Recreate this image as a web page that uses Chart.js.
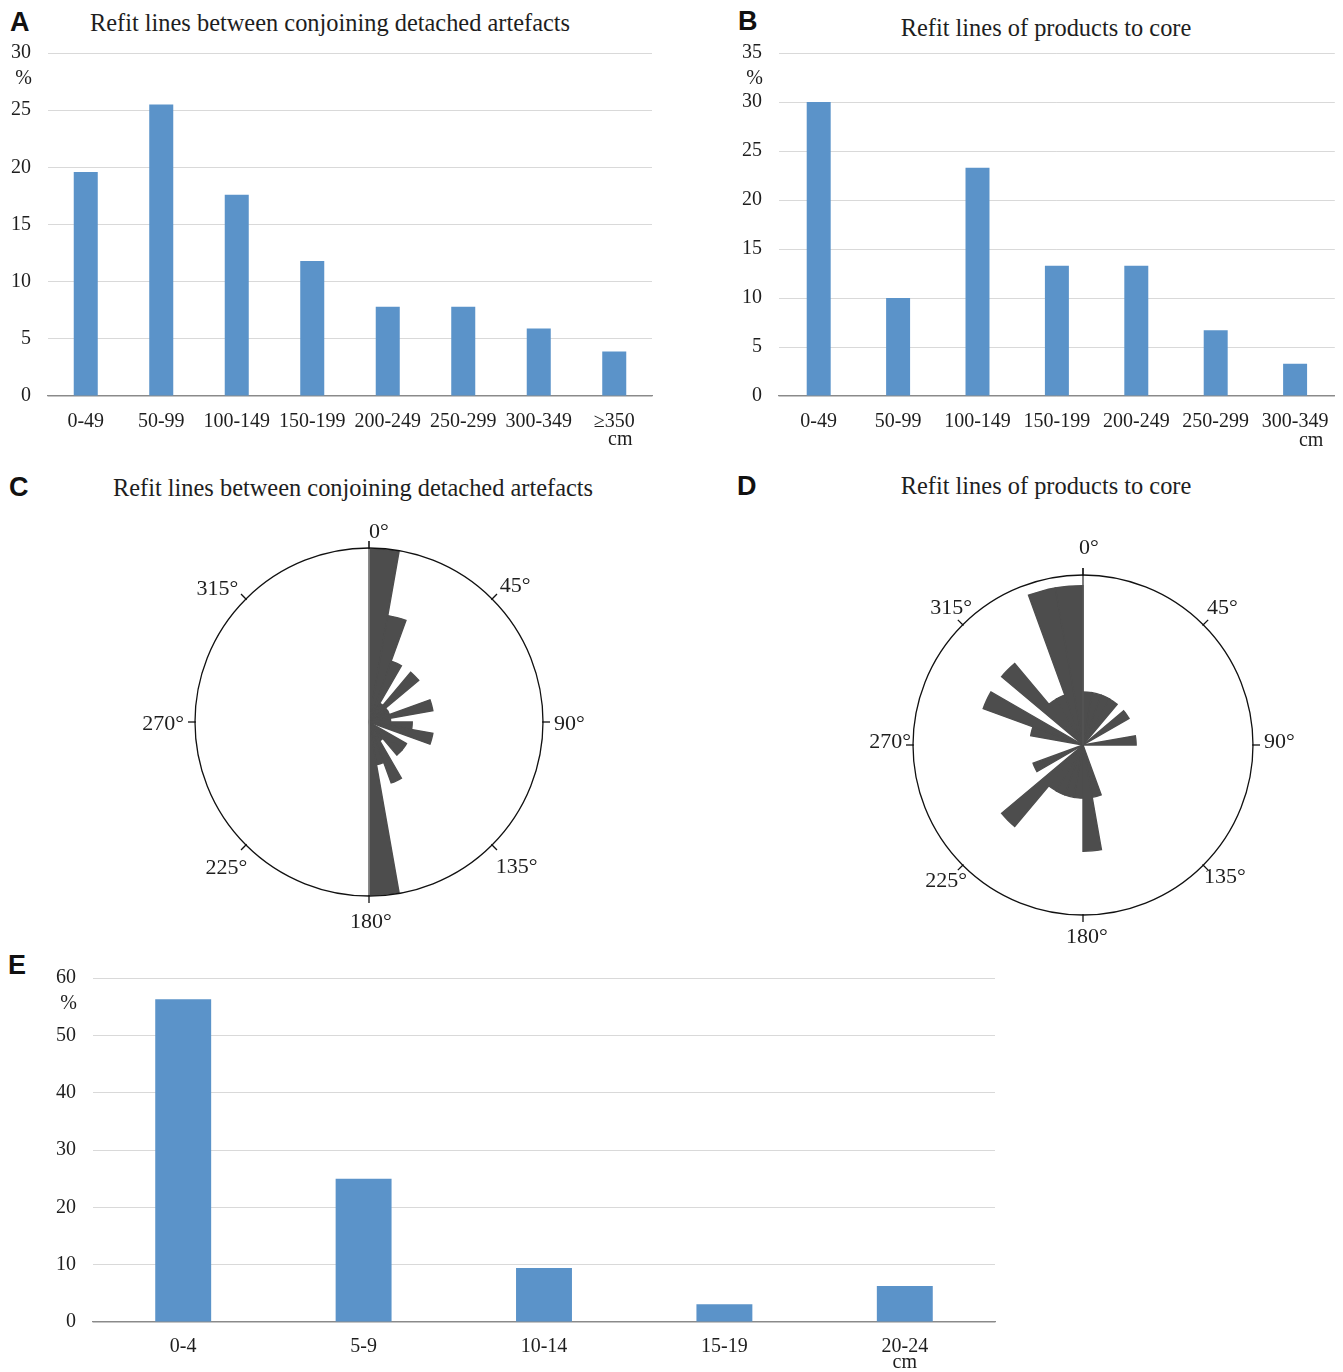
<!DOCTYPE html>
<html>
<head>
<meta charset="utf-8">
<title>Refit lines</title>
<script src="https://cdn.jsdelivr.net/npm/chart.js@4.4.1/dist/chart.umd.min.js"></script>
<style>
  body { margin: 0; background: #fff; }
  #page { position: relative; width: 1343px; height: 1372px; overflow: hidden;
          font-family: "Liberation Serif", "Times New Roman", serif; color: #1e1e1e; }
  canvas { position: absolute; }
  .letter { position: absolute; font-family: "Liberation Sans", Arial, sans-serif; font-weight: bold;
            font-size: 27px; line-height: 1; color: #111; }
  .title { position: absolute; font-size: 24.4px; line-height: 1; white-space: nowrap;
           transform: translate(-50%, -50%); }
</style>
</head>
<body>
<div id="page">
  <div class="letter" style="left:10px;top:9px">A</div>
  <div class="letter" style="left:738px;top:8px">B</div>
  <div class="letter" style="left:9px;top:474px">C</div>
  <div class="letter" style="left:737px;top:473px">D</div>
  <div class="letter" style="left:8px;top:952px">E</div>

  <div class="title" style="left:330px;top:23px">Refit lines between conjoining detached artefacts</div>
  <div class="title" style="left:1046px;top:28px">Refit lines of products to core</div>
  <div class="title" style="left:353px;top:488px">Refit lines between conjoining detached artefacts</div>
  <div class="title" style="left:1046px;top:486px">Refit lines of products to core</div>

  <canvas id="chartA" width="670" height="456" style="left:0;top:0"></canvas>
  <canvas id="chartB" width="643" height="456" style="left:700px;top:0"></canvas>
  <canvas id="roseC" width="540" height="460" style="left:100px;top:500px"></canvas>
  <canvas id="roseD" width="500" height="450" style="left:830px;top:520px"></canvas>
  <canvas id="chartE" width="1010" height="462" style="left:0;top:920px"></canvas>
</div>

<script>
// ---- data ----
// A: length of refit lines between conjoining detached artefacts (%)
const lengthClassesA = ['0-49', '50-99', '100-149', '150-199', '200-249', '250-299', '300-349', '\u2265350'];
const lengthShareA   = [19.6, 25.5, 17.6, 11.8, 7.8, 7.8, 5.9, 3.9];

// B: length of refit lines of products to core (%)
const lengthClassesB = ['0-49', '50-99', '100-149', '150-199', '200-249', '250-299', '300-349'];
const lengthShareB   = [30.0, 10.0, 23.3, 13.3, 13.3, 6.7, 3.3];

// E: length classes (%)
const lengthClassesE = ['0-4', '5-9', '10-14', '15-19', '20-24'];
const lengthShareE   = [56.3, 25.0, 9.4, 3.1, 6.3];

// C: orientation of refit lines, 10-degree sectors clockwise from 0 (counts)
const orientationC = [8, 5, 3, 1, 3, 1, 1, 3, 1, 2, 3, 0, 2, 2, 1, 3, 2, 8,
                      0, 0, 0, 0, 0, 0, 0, 0, 0, 0, 0, 0, 0, 0, 0, 0, 0, 0];

// D: orientation of product-to-core refit lines, 10-degree sectors (counts)
const orientationD = [1, 1, 1, 1, 0, 1, 0, 0, 1, 0, 0, 0, 0, 0, 0, 0, 1, 2,
                      1, 1, 1, 1, 2, 0, 1, 0, 0, 0, 1, 2, 0, 2, 1, 1, 3, 3];

// compass labels on the rose diagrams
const compassDegrees = [0, 45, 90, 135, 180, 225, 270, 315];
const compassLabels  = ['0\u00b0', '45\u00b0', '90\u00b0', '135\u00b0', '180\u00b0', '225\u00b0', '270\u00b0', '315\u00b0'];

// ---- styling ----
const SERIF = '"Liberation Serif", "Times New Roman", serif';
const TEXT = '#1e1e1e';
const BAR_BLUE = '#5b93c9';
const ROSE_GREY = '#4d4d4d';
const GRID = '#d9d9d9';
const AXIS = '#8a8a8a';

// unit captions: "%" under the top value tick, "cm" under the last class label
const unitLabels = {
  id: 'unitLabels',
  afterDraw(chart, args, opts) {
    const { ctx, chartArea, scales } = chart;
    ctx.save();
    ctx.font = '20px ' + SERIF;
    ctx.fillStyle = TEXT;
    ctx.textAlign = 'right';
    ctx.textBaseline = 'middle';
    ctx.fillText('%', scales.y.right - scales.y.options.ticks.padding + 1, chartArea.top + 26);
    const last = scales.x.ticks.length - 1;
    ctx.textAlign = 'center';
    ctx.fillText('cm', scales.x.getPixelForTick(last) + opts.cmShift, chartArea.bottom + opts.cmDrop);
    ctx.restore();
  }
};

function barChart(id, labels, values, cfg) {
  return new Chart(document.getElementById(id), {
    type: 'bar',
    data: {
      labels: labels,
      datasets: [{
        data: values,
        backgroundColor: BAR_BLUE,
        barPercentage: cfg.barPct,
        categoryPercentage: 1
      }]
    },
    options: {
      responsive: false,
      animation: false,
      devicePixelRatio: 1,
      layout: { padding: { top: cfg.top, right: cfg.right, bottom: 0, left: 0 } },
      plugins: { legend: { display: false }, tooltip: { enabled: false }, unitLabels: cfg.units },
      scales: {
        y: {
          min: 0, max: cfg.yMax,
          ticks: { stepSize: cfg.yStep, padding: 17, color: TEXT, font: { family: SERIF, size: 20 } },
          grid: { color: GRID, drawTicks: false, lineWidth: 1 },
          border: { display: false },
          afterFit(s) { s.width = cfg.yWidth; }
        },
        x: {
          ticks: { padding: cfg.xPad, color: TEXT, font: { family: SERIF, size: 20 }, maxRotation: 0, autoSkip: false },
          grid: { display: false, drawTicks: false },
          border: { display: true, color: AXIS, width: 1.2 },
          afterFit(s) { s.height = 60; }
        }
      }
    },
    plugins: [unitLabels]
  });
}

barChart('chartA', lengthClassesA, lengthShareA,
  { barPct: 0.318, yMax: 30, yStep: 5, yWidth: 48, top: 53, right: 18, xPad: 14,
    units: { cmShift: 6, cmDrop: 44 } });
barChart('chartB', lengthClassesB, lengthShareB,
  { barPct: 0.302, yMax: 35, yStep: 5, yWidth: 79, top: 53, right: 8, xPad: 14,
    units: { cmShift: 16, cmDrop: 45 } });
barChart('chartE', lengthClassesE, lengthShareE,
  { barPct: 0.31, yMax: 60, yStep: 10, yWidth: 93, top: 58, right: 15, xPad: 13,
    units: { cmShift: 0, cmDrop: 41 } });

// outer circle, reference axis, compass ticks and degree labels of a rose diagram
const roseFrame = {
  id: 'roseFrame',
  afterDatasetsDraw(chart, args, opts) {
    const s = chart.scales.r;
    const cx = s.xCenter, cy = s.yCenter, R = s.drawingArea;
    const ctx = chart.ctx;
    ctx.save();
    ctx.strokeStyle = opts.axisColor;
    ctx.lineWidth = 1.5;
    ctx.beginPath();
    ctx.moveTo(cx, cy - R - 7);
    ctx.lineTo(cx, opts.fullAxis ? cy + R : cy);
    ctx.stroke();

    ctx.strokeStyle = '#111';
    ctx.lineWidth = 1.3;
    ctx.beginPath();
    ctx.arc(cx, cy, R, 0, Math.PI * 2);
    ctx.stroke();

    ctx.font = '22px ' + SERIF;
    ctx.fillStyle = TEXT;
    compassDegrees.forEach((deg, i) => {
      const a = deg * Math.PI / 180;
      const ux = Math.sin(a), uy = -Math.cos(a);
      ctx.beginPath();
      ctx.moveTo(cx + ux * (R - 1), cy + uy * (R - 1));
      ctx.lineTo(cx + ux * (R + 7), cy + uy * (R + 7));
      ctx.stroke();
      const d = R + 11;
      const nudge = opts.labelNudge[i];
      ctx.textAlign = ux > 0.1 ? 'left' : (ux < -0.1 ? 'right' : 'center');
      ctx.textBaseline = uy < -0.1 ? 'bottom' : (uy > 0.1 ? 'top' : 'middle');
      ctx.fillText(compassLabels[i],
        cx + ux * d + (Math.abs(ux) < 0.1 ? 4 : 0) + nudge[0],
        cy + uy * d + nudge[1]);
    });
    ctx.restore();
  }
};

function roseChart(id, counts, rMax, pad, frame) {
  return new Chart(document.getElementById(id), {
    type: 'polarArea',
    data: {
      labels: counts.map((_, i) => (i * 10) + '\u2013' + (i * 10 + 10) + '\u00b0'),
      datasets: [{ data: counts, backgroundColor: ROSE_GREY, borderColor: ROSE_GREY,
                   borderWidth: 1.4, borderJoinStyle: 'miter' }]
    },
    options: {
      responsive: false,
      animation: false,
      devicePixelRatio: 1,
      layout: { padding: pad },
      plugins: { legend: { display: false }, tooltip: { enabled: false }, roseFrame: frame },
      scales: {
        r: {
          min: 0, max: rMax, startAngle: 0,
          ticks: { display: false },
          grid: { display: false },
          angleLines: { display: false },
          pointLabels: { display: false }
        }
      }
    },
    plugins: [roseFrame]
  });
}

roseChart('roseC', orientationC, 8.05, { left: 95, top: 48, right: 97, bottom: 64 },
  { fullAxis: true, axisColor: '#8c8c8c',
    labelNudge: [[6, 6], [0, 6], [0, 2], [-4, 3], [-2, 4], [9, 4], [0, 2], [0, 9]] });
roseChart('roseD', orientationD, 3.2, { left: 83, top: 55, right: 77, bottom: 55 },
  { fullAxis: false, axisColor: '#555',
    labelNudge: [[2, -5], [-4, 2], [0, -3], [-7, -7], [0, 0], [12, -3], [9, -3], [17, 2]] });
</script>
</body>
</html>
